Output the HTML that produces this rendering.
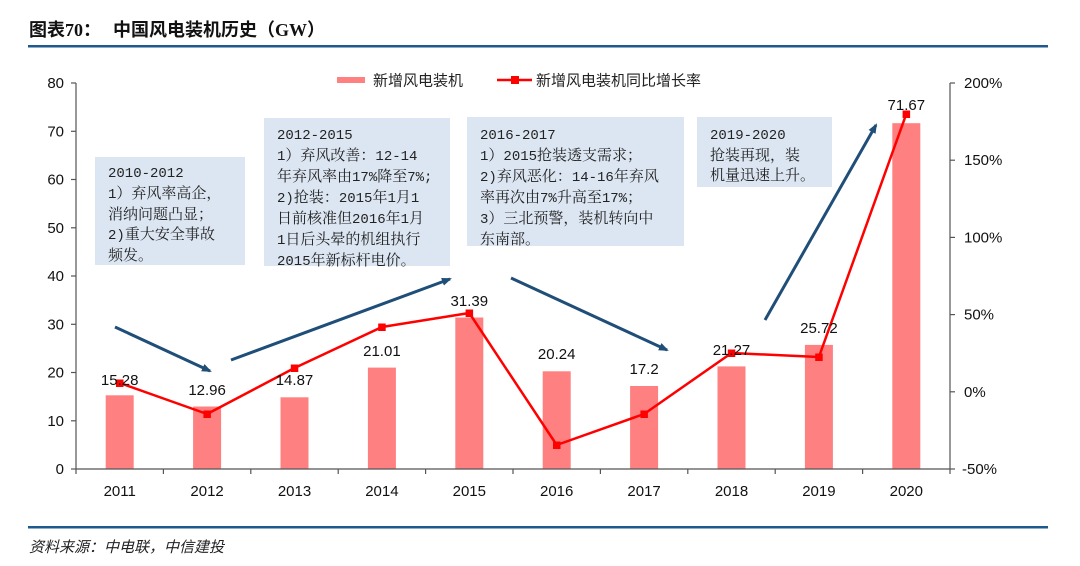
<!DOCTYPE html>
<html><head><meta charset="utf-8"><style>
html,body{margin:0;padding:0;background:#fff;}
body{width:1080px;height:566px;overflow:hidden;position:relative;}
svg{position:absolute;left:0;top:0;}
.box{position:absolute;background:#dce6f2;font-family:"Liberation Serif","Noto Serif CJK SC",serif;font-size:15px;line-height:20px;color:#222;box-sizing:border-box;white-space:nowrap;}
.m{font-family:"Liberation Mono","Noto Serif CJK SC",monospace;font-size:14px;}
</style></head><body>
<svg width="1080" height="566" viewBox="0 0 1080 566" xmlns="http://www.w3.org/2000/svg">
<defs>
<marker id="ah" markerWidth="10" markerHeight="8" refX="8" refY="4" orient="auto" markerUnits="userSpaceOnUse">
<path d="M0,0 L10,4 L0,8 Z" fill="#1f4e79"/>
</marker>
</defs>
<!-- title -->
<text x="29" y="36" font-family="'Liberation Serif','Noto Sans CJK SC',serif" font-weight="bold" font-size="18" fill="#111">图表70：</text>
<text x="113" y="36" font-family="'Liberation Serif','Noto Sans CJK SC',sans-serif" font-weight="bold" font-size="18" fill="#111">中国风电装机历史（GW）</text>
<rect x="28" y="45" width="1020" height="2.5" fill="#1f5a8f"/>
<!-- bottom line & source -->
<rect x="28" y="526" width="1020" height="2.5" fill="#1f5a8f"/>
<text x="29" y="552" font-family="'Liberation Sans','Noto Sans CJK SC',sans-serif" font-style="italic" font-size="15" fill="#222">资料来源：中电联，中信建投</text>

<!-- bars -->
<g fill="#ff8080">
<rect x="105.7" y="395.3" width="28" height="73.7"/>
<rect x="193.1" y="406.5" width="28" height="62.5"/>
<rect x="280.5" y="397.3" width="28" height="71.7"/>
<rect x="367.9" y="367.6" width="28" height="101.4"/>
<rect x="455.3" y="317.5" width="28" height="151.5"/>
<rect x="542.7" y="371.3" width="28" height="97.7"/>
<rect x="630.1" y="386.0" width="28" height="83.0"/>
<rect x="717.5" y="366.4" width="28" height="102.6"/>
<rect x="804.9" y="344.9" width="28" height="124.1"/>
<rect x="892.3" y="123.2" width="28" height="345.8"/>
</g>

<!-- axes -->
<g stroke="#555" stroke-width="1.2" fill="none">
<line x1="76" y1="83" x2="76" y2="469"/>
<line x1="950" y1="83" x2="950" y2="469"/>
<line x1="76" y1="469" x2="950" y2="469"/>
<line x1="71" y1="83" x2="76" y2="83"/>
<line x1="71" y1="131.3" x2="76" y2="131.3"/>
<line x1="71" y1="179.5" x2="76" y2="179.5"/>
<line x1="71" y1="227.8" x2="76" y2="227.8"/>
<line x1="71" y1="276" x2="76" y2="276"/>
<line x1="71" y1="324.3" x2="76" y2="324.3"/>
<line x1="71" y1="372.5" x2="76" y2="372.5"/>
<line x1="71" y1="420.8" x2="76" y2="420.8"/>
<line x1="71" y1="469" x2="76" y2="469"/>
<line x1="950" y1="83" x2="955" y2="83"/>
<line x1="950" y1="160.2" x2="955" y2="160.2"/>
<line x1="950" y1="237.4" x2="955" y2="237.4"/>
<line x1="950" y1="314.6" x2="955" y2="314.6"/>
<line x1="950" y1="391.8" x2="955" y2="391.8"/>
<line x1="950" y1="469" x2="955" y2="469"/>
<line x1="76" y1="469" x2="76" y2="474"/>
<line x1="163.4" y1="469" x2="163.4" y2="474"/>
<line x1="250.8" y1="469" x2="250.8" y2="474"/>
<line x1="338.2" y1="469" x2="338.2" y2="474"/>
<line x1="425.6" y1="469" x2="425.6" y2="474"/>
<line x1="513" y1="469" x2="513" y2="474"/>
<line x1="600.4" y1="469" x2="600.4" y2="474"/>
<line x1="687.8" y1="469" x2="687.8" y2="474"/>
<line x1="775.2" y1="469" x2="775.2" y2="474"/>
<line x1="862.6" y1="469" x2="862.6" y2="474"/>
<line x1="950" y1="469" x2="950" y2="474"/>
</g>

<g font-family="'Liberation Sans',sans-serif" font-size="15" fill="#111" text-anchor="end">
<text x="64" y="88">80</text>
<text x="64" y="136.3">70</text>
<text x="64" y="184.5">60</text>
<text x="64" y="232.8">50</text>
<text x="64" y="281">40</text>
<text x="64" y="329.3">30</text>
<text x="64" y="377.5">20</text>
<text x="64" y="425.8">10</text>
<text x="64" y="474">0</text>
</g>
<g font-family="'Liberation Sans',sans-serif" font-size="15" fill="#111">
<text x="964" y="88">200%</text>
<text x="964" y="165.2">150%</text>
<text x="964" y="242.4">100%</text>
<text x="964" y="319.6">50%</text>
<text x="964" y="396.8">0%</text>
<text x="962" y="474">-50%</text>
</g>
<g font-family="'Liberation Sans',sans-serif" font-size="15" fill="#111" text-anchor="middle">
<text x="119.7" y="496">2011</text>
<text x="207.1" y="496">2012</text>
<text x="294.5" y="496">2013</text>
<text x="381.9" y="496">2014</text>
<text x="469.3" y="496">2015</text>
<text x="556.7" y="496">2016</text>
<text x="644.1" y="496">2017</text>
<text x="731.5" y="496">2018</text>
<text x="818.9" y="496">2019</text>
<text x="906.3" y="496">2020</text>
</g>

<polyline fill="none" stroke="#ff0000" stroke-width="2.5" stroke-linejoin="round"
points="119.7,383 207.1,414 294.5,368 381.9,327 469.3,313 556.7,445 644.1,414 731.5,353 818.9,357 906.3,114"/>
<g fill="#ff0000">
<rect x="116" y="379.5" width="7.5" height="7.5"/>
<rect x="203.4" y="410.5" width="7.5" height="7.5"/>
<rect x="290.8" y="364.5" width="7.5" height="7.5"/>
<rect x="378.2" y="323.5" width="7.5" height="7.5"/>
<rect x="465.6" y="309.5" width="7.5" height="7.5"/>
<rect x="553" y="441.5" width="7.5" height="7.5"/>
<rect x="640.4" y="410.5" width="7.5" height="7.5"/>
<rect x="727.8" y="349.5" width="7.5" height="7.5"/>
<rect x="815.2" y="353.5" width="7.5" height="7.5"/>
<rect x="902.6" y="110.5" width="7.5" height="7.5"/>
</g>

<g font-family="'Liberation Sans',sans-serif" font-size="15" fill="#111" text-anchor="middle">
<text x="119.7" y="385">15.28</text>
<text x="207.1" y="395">12.96</text>
<text x="294.5" y="385">14.87</text>
<text x="381.9" y="356">21.01</text>
<text x="469.3" y="306">31.39</text>
<text x="556.7" y="359">20.24</text>
<text x="644.1" y="374">17.2</text>
<text x="731.5" y="355">21.27</text>
<text x="818.9" y="333">25.72</text>
<text x="906.3" y="110">71.67</text>
</g>

<g stroke="#1f4e79" stroke-width="3" fill="none" marker-end="url(#ah)">
<line x1="115" y1="327" x2="210" y2="371"/>
<line x1="231" y1="360" x2="450" y2="279"/>
<line x1="511" y1="278" x2="667" y2="350"/>
<line x1="765" y1="320" x2="876" y2="125"/>
</g>

<rect x="337" y="77" width="28" height="6" fill="#ff8080"/>
<text x="373" y="85.5" font-family="'Liberation Sans','Noto Sans CJK SC',sans-serif" font-size="15" fill="#222">新增风电装机</text>
<line x1="497" y1="80" x2="532" y2="80" stroke="#ff0000" stroke-width="2.5"/>
<rect x="511" y="76" width="8" height="8" fill="#ff0000"/>
<text x="536" y="85.5" font-family="'Liberation Sans','Noto Sans CJK SC',sans-serif" font-size="15" fill="#222">新增风电装机同比增长率</text>
</svg>

<div class="box" style="left:95px;top:157px;width:150px;height:108px;padding:6px 0 0 13px;"><span class="m">2010-2012</span><br><span class="m">1</span>）弃风率高企，<br>消纳问题凸显；<br><span class="m">2)</span>重大安全事故<br>频发。</div>
<div class="box" style="left:264px;top:118px;width:186px;height:148px;padding:7px 0 0 13px;"><span class="m">2012-2015</span><br><span class="m">1</span>）弃风改善：<span class="m">12-14</span><br>年弃风率由<span class="m">17%</span>降至<span class="m">7%;</span><br><span class="m">2)</span>抢装：<span class="m">2015</span>年<span class="m">1</span>月<span class="m">1</span><br>日前核准但<span class="m">2016</span>年<span class="m">1</span>月<br><span class="m">1</span>日后头晕的机组执行<br><span class="m">2015</span>年新标杆电价。</div>
<div class="box" style="left:467px;top:117px;width:217px;height:129px;padding:8px 0 0 13px;"><span class="m">2016-2017</span><br><span class="m">1</span>）<span class="m">2015</span>抢装透支需求；<br><span class="m">2)</span>弃风恶化：<span class="m">14-16</span>年弃风<br>率再次由<span class="m">7%</span>升高至<span class="m">17%</span>；<br><span class="m">3</span>）三北预警，装机转向中<br>东南部。</div>
<div class="box" style="left:697px;top:117px;width:135px;height:70px;padding:8px 0 0 13px;"><span class="m">2019-2020</span><br>抢装再现，装<br>机量迅速上升。</div>
</body></html>
